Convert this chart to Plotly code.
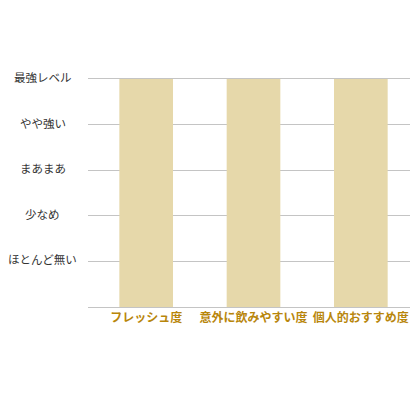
import plotly.graph_objects as go

# categories and scores (5 = 最強レベル)
categories = ["フレッシュ度", "意外に飲みやすい度", "個人的おすすめ度"]
scores = [5, 5, 5]
level_vals = [1, 2, 3, 4, 5]
level_text = ["ほとんど無い", "少なめ", "まあまあ", "やや強い", "最強レベル"]

fig = go.Figure(go.Bar(
    x=categories,
    y=scores,
    width=0.5,
    marker=dict(color="#e6d8aa", line=dict(width=0)),
))

# y labels centered in the left margin
for v, t in zip(level_vals, level_text):
    fig.add_annotation(
        x=-0.14, xref="paper", y=v, yref="y",
        text=t, showarrow=False, xanchor="center", yanchor="middle",
        yshift=2, font=dict(size=11.5, color="#333333"),
    )

# top line via mirrored x axis line (gridline at the range edge isn't drawn)
fig.update_xaxes(
    range=[-0.542, 2.458],
    showgrid=False,
    showline=True,
    mirror=True,
    linecolor="#c4c4c4",
    linewidth=1,
    ticks="",
    tickfont=dict(size=12, color="#b8860b", family="Noto Sans CJK JP", weight="bold"),
)
fig.update_yaxes(
    range=[0, 5],
    tickvals=level_vals,
    showticklabels=False,
    showgrid=True,
    gridcolor="#c4c4c4",
    gridwidth=1,
    zeroline=True,
    zerolinecolor="#c4c4c4",
    zerolinewidth=1,
)

# page has an 8px body margin, so the figure is a bit smaller than the window
fig.update_layout(
    width=412, height=412,
    margin=dict(l=80, r=10, t=71, b=113),
    plot_bgcolor="white",
    paper_bgcolor="white",
    font=dict(family="Noto Sans CJK JP"),
    showlegend=False,
    bargap=0.5,
)

fig.write_html("out.html")
